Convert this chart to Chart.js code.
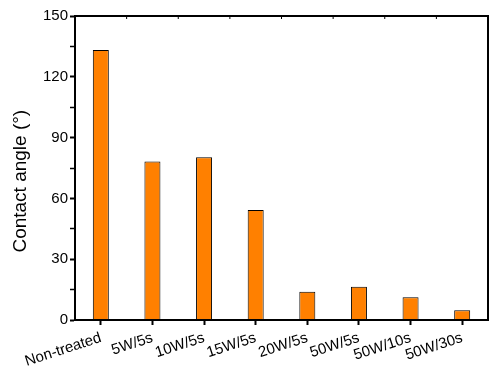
<!DOCTYPE html>
<html>
<head>
<meta charset="utf-8">
<script src="https://cdn.jsdelivr.net/npm/chart.js@4/dist/chart.umd.min.js"></script>
<style>
  html, body { margin: 0; padding: 0; background: #fff; }
  #wrap { width: 489px; height: 368px; position: relative; }
</style>
</head>
<body>
<div id="wrap"><canvas id="angleChart"></canvas></div>
<script>
// Contact angle after plasma treatment
const categories = ['Non-treated', '5W/5s', '10W/5s', '15W/5s', '20W/5s', '50W/5s', '50W/10s', '50W/30s'];
const angles = [133.2, 78.2, 80.3, 54.3, 14.0, 16.4, 11.2, 4.8];
const yTicks = [0, 30, 60, 90, 120, 150];

// frame round the plot area (top + right sides)
const frame = {
  id: 'frame',
  afterDraw(chart) {
    const { ctx, chartArea: a } = chart;
    ctx.save();
    ctx.strokeStyle = '#000';
    ctx.lineWidth = 2;
    ctx.strokeRect(a.left, a.top, a.right - a.left, a.bottom - a.top);
    // minor ticks on the top edge, at category boundaries
    const x = chart.scales.x;
    ctx.lineWidth = 1;
    for (let i = 0; i <= categories.length; i++) {
      const px = x.getPixelForValue(i - 0.5);
      ctx.beginPath();
      ctx.moveTo(px, a.top);
      ctx.lineTo(px, a.top + 3);
      ctx.stroke();
    }
    ctx.restore();
  }
};

new Chart(document.getElementById('angleChart'), {
  type: 'bar',
  data: {
    labels: categories,
    datasets: [{
      data: angles,
      backgroundColor: '#FF8000',
      borderColor: '#000',
      borderWidth: 1,
      borderSkipped: 'bottom',
      barPercentage: 0.31,
      categoryPercentage: 1
    }]
  },
  options: {
    responsive: true,
    maintainAspectRatio: false,
    animation: false,
    layout: { padding: { top: 16, right: 1, left: 0, bottom: 0 } },
    plugins: { legend: { display: false }, tooltip: { enabled: false } },
    scales: {
      x: {
        offset: true,
        grid: { offset: false, drawOnChartArea: false, tickLength: 5, tickWidth: 2, tickColor: '#000' },
        border: { color: '#000', width: 2 },
        ticks: {
          color: '#000',
          font: { family: "'Liberation Sans', Arial, sans-serif", size: 15 },
          minRotation: 18,
          maxRotation: 18,
          padding: 4,
          autoSkip: false
        },
        afterFit: (s) => { s.height = 48; }
      },
      y: {
        min: 0,
        max: 150,
        afterBuildTicks: (s) => {
          // majors every 30, minors in between
          const t = [];
          yTicks.forEach((v, i) => {
            t.push({ value: v });
            if (i < yTicks.length - 1) t.push({ value: (v + yTicks[i + 1]) / 2 });
          });
          s.ticks = t;
        },
        grid: {
          drawOnChartArea: false,
          tickLength: 5,
          tickWidth: (c) => (yTicks.includes(c.tick.value) ? 2 : 1.5),
          tickColor: '#000'
        },
        border: { color: '#000', width: 2 },
        ticks: {
          color: '#000',
          padding: 2,
          font: { family: "'Liberation Sans', Arial, sans-serif", size: 15 },
          callback: (v) => (yTicks.includes(v) ? String(v) : '')
        },
        title: {
          display: true,
          text: 'Contact angle (°)\u00A0\u00A0\u00A0\u00A0\u00A0',
          color: '#000',
          font: { family: "'Liberation Sans', Arial, sans-serif", size: 19 },
          padding: { top: 9, bottom: 0 }
        },
        afterFit: (s) => { s.width = 75; }
      }
    }
  },
  plugins: [frame]
});
</script>
</body>
</html>
